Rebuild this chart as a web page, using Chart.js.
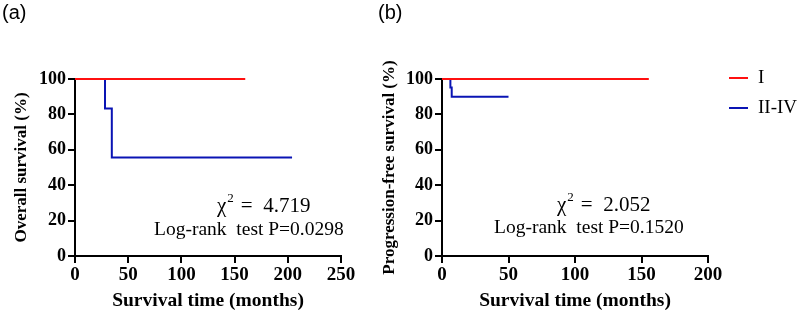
<!DOCTYPE html>
<html>
<head>
<meta charset="utf-8">
<script src="https://cdn.jsdelivr.net/npm/chart.js@4.4.0/dist/chart.umd.min.js"></script>
<style>
  body { margin: 0; background: #fff; }
  #wrap { position: relative; width: 800px; height: 317px; overflow: hidden; }
  .box { position: absolute; top: 0; height: 317px; }
</style>
</head>
<body>
<div id="wrap">
  <div class="box" style="left:0;width:378px"><canvas id="chartA"></canvas></div>
  <div class="box" style="left:378px;width:422px"><canvas id="chartB"></canvas></div>
</div>
<script>
// Panel (a): overall survival
const osTimesI = [0, 160];
const osValuesI = [100, 100];
const osTimesII = [0, 28.2, 34.6, 204];
const osValuesII = [100, 83.3, 55.6, 55.6];
const osTicksX = [0, 50, 100, 150, 200, 250];
const osStats = { chi: '4.719', p: '0.0298' };

// Panel (b): progression-free survival
const pfsTimesI = [0, 155.5];
const pfsValuesI = [100, 100];
const pfsTimesII = [0, 6.3, 7.3, 50];
const pfsValuesII = [100, 95.2, 90, 90];
const pfsTicksX = [0, 50, 100, 150, 200];
const pfsStats = { chi: '2.052', p: '0.1520' };

const groupNames = ['I', 'II-IV'];
const groupColors = ['#ff1010', '#0a14b4'];
const yTicks = [0, 20, 40, 60, 80, 100];

const serif = "'Liberation Serif', 'Times New Roman', serif";

function toPoints(xs, ys) {
  return xs.map((x, i) => ({ x: x, y: ys[i] }));
}

// draws panel letter, the statistics text and (optionally) the legend
const notesPlugin = {
  id: 'notes',
  afterDraw(chart, args, opts) {
    const ctx = chart.ctx;
    ctx.save();
    ctx.fillStyle = '#000';
    ctx.textBaseline = 'middle';
    ctx.font = "20px 'Liberation Sans', Arial, sans-serif";
    ctx.textAlign = 'left';
    ctx.fillText(opts.letter, opts.letterX, 13);

    // chi-square line with superscript
    ctx.font = '21px ' + serif;
    let x = opts.chiX;
    ctx.fillText('\u03c7', x, opts.chiY);
    x += ctx.measureText('\u03c7').width + 1;
    ctx.font = '13px ' + serif;
    ctx.fillText('2', x, opts.chiY - 7);
    x += ctx.measureText('2').width + 2;
    ctx.font = '21px ' + serif;
    ctx.fillText('=  ' + opts.chi, x + 5, opts.chiY);

    ctx.font = '19.5px ' + serif;
    ctx.fillText('Log-rank  test P=' + opts.p, opts.pX, opts.pY);

    if (opts.legend) {
      groupNames.forEach((name, i) => {
        const y = 78 + i * 30;
        ctx.strokeStyle = groupColors[i];
        ctx.lineWidth = 2;
        ctx.beginPath();
        ctx.moveTo(351, y);
        ctx.lineTo(370, y);
        ctx.stroke();
        ctx.fillStyle = '#000';
        ctx.font = '19px ' + serif;
        ctx.fillText(name, 380, y);
      });
    }
    ctx.restore();
  }
};

function makeChart(id, data, opts) {
  // group I is drawn on top of group II-IV
  const ds = (i) => ({
    label: groupNames[i], data: data[i], borderColor: groupColors[i], borderWidth: 2,
    stepped: 'before', pointRadius: 0, fill: false, clip: false, order: i
  });
  return new Chart(document.getElementById(id), {
    type: 'line',
    data: { datasets: [ds(0), ds(1)] },
    options: {
      responsive: true,
      maintainAspectRatio: false,
      animation: false,
      events: [],
      layout: { padding: { left: opts.padLeft, top: 79, right: opts.padRight, bottom: 0 } },
      plugins: {
        legend: { display: false },
        tooltip: { enabled: false },
        notes: opts.notes
      },
      scales: {
        x: {
          type: 'linear',
          min: 0,
          max: opts.xTicks[opts.xTicks.length - 1],
          afterBuildTicks: s => { s.ticks = opts.xTicks.map(v => ({ value: v })); },
          afterFit: s => { s.height = 61; },
          border: { color: '#000', width: 2 },
          grid: { drawOnChartArea: false, color: '#000', lineWidth: 2, tickLength: 7 },
          ticks: { color: '#000', font: { family: serif, size: 19, weight: 'bold' }, padding: 1, maxRotation: 0 },
          title: { display: true, text: 'Survival time (months)', color: '#000', font: { family: serif, size: 19.5, weight: 'bold' }, padding: { top: 3 } }
        },
        y: {
          min: 0,
          max: 100,
          afterBuildTicks: s => { s.ticks = yTicks.map(v => ({ value: v })); },
          afterFit: s => { s.width = opts.yWidth; },
          border: { color: '#000', width: 2 },
          grid: { drawOnChartArea: false, color: '#000', lineWidth: 2, tickLength: 7 },
          ticks: { color: '#000', font: { family: serif, size: 18, weight: 'bold' }, padding: 2 },
          title: { display: true, text: opts.yTitle, color: '#000', font: { family: serif, size: 17, weight: 'bold' }, padding: 0 }
        }
      }
    },
    plugins: [notesPlugin]
  });
}

makeChart('chartA', [toPoints(osTimesI, osValuesI), toPoints(osTimesII, osValuesII)], {
  padLeft: 11, padRight: 37, yWidth: 64, xTicks: osTicksX,
  yTitle: 'Overall survival (%)',
  notes: { letter: '(a)', letterX: 2, chi: osStats.chi, p: osStats.p, chiX: 217, chiY: 206, pX: 154, pY: 230 }
});

makeChart('chartB', [toPoints(pfsTimesI, pfsValuesI), toPoints(pfsTimesII, pfsValuesII)], {
  padLeft: 1, padRight: 92, yWidth: 63, xTicks: pfsTicksX,
  yTitle: 'Progression-free survival (%)',
  notes: { letter: '(b)', letterX: 0, chi: pfsStats.chi, p: pfsStats.p, chiX: 179, chiY: 205, pX: 116, pY: 228, legend: true }
});
</script>
</body>
</html>
